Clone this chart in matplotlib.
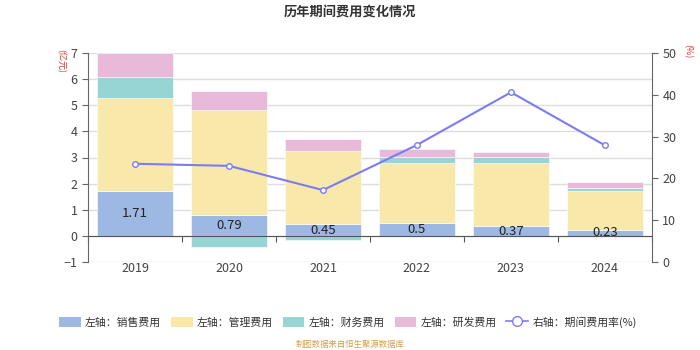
import matplotlib.pyplot as plt
import numpy as np
from matplotlib.patches import Patch
from matplotlib.lines import Line2D

plt.rcParams['font.family'] = ['Noto Sans CJK SC', 'DejaVu Sans']

years = ["2019", "2020", "2021", "2022", "2023", "2024"]
sales = [1.71, 0.79, 0.45, 0.5, 0.37, 0.23]        # 销售费用 (亿元)
admin = [3.58, 4.03, 2.80, 2.30, 2.42, 1.49]       # 管理费用
finance = [0.78, -0.42, -0.15, 0.21, 0.22, 0.13]   # 财务费用
rnd = [0.93, 0.72, 0.46, 0.31, 0.20, 0.20]         # 研发费用
rate = [23.5, 23.0, 17.2, 28.0, 40.6, 27.9]        # 期间费用率(%)

c_sales = "#9db9e3"
c_admin = "#f8e8a9"
c_fin = "#97d4d4"
c_rnd = "#e8b9d9"
c_line = "#7b7cf5"

fig = plt.figure(figsize=(7, 3.5), dpi=100)
ax = fig.add_axes([0.1257, 0.2514, 0.8057, 0.5972])
x = np.arange(len(years))
w = 0.8

# positives and negatives stack separately
pos_base = np.zeros(len(years))
neg_base = np.zeros(len(years))
for vals, col in [(sales, c_sales), (admin, c_admin), (finance, c_fin), (rnd, c_rnd)]:
    v = np.array(vals)
    base = np.where(v >= 0, pos_base, neg_base)
    ax.bar(x, v, w, bottom=base, color=col, edgecolor="white", linewidth=0.4, zorder=2)
    pos_base = pos_base + np.where(v >= 0, v, 0)
    neg_base = neg_base + np.where(v < 0, v, 0)

for i, v in enumerate(sales):
    ax.text(x[i], v / 2, f"{v:g}", ha="center", va="center", fontsize=9.5, color="#222222", zorder=3)

ax.set_xlim(-0.5, len(years) - 0.5)
ax.set_ylim(-1, 7)
ax.set_yticks(range(-1, 8))
ax.yaxis.grid(True, color="#dddddd", linewidth=1, zorder=0)
ax.set_axisbelow(True)
ax.spines['top'].set_visible(False)
ax.spines['right'].set_visible(False)
ax.spines['left'].set_color("#666666")
ax.spines['bottom'].set_position(('data', 0))
ax.spines['bottom'].set_color("#555555")
ax.set_xticks(np.arange(len(years) + 1) - 0.5)
ax.set_xticklabels([])
ax.tick_params(axis='x', length=4, color="#555555", direction="out")
ax.tick_params(axis='y', length=4, color="#666666", labelsize=9, labelcolor="#444444")
for i, yr in enumerate(years):
    ax.text(x[i], -1.25, yr, ha="center", va="center", fontsize=9, color="#444444")

ax2 = ax.twinx()
ax2.plot(x, rate, color=c_line, linewidth=1.5, marker="o", markersize=4,
         markerfacecolor="white", markeredgecolor=c_line, markeredgewidth=1, zorder=5)
ax2.set_ylim(0, 50)
ax2.set_yticks(range(0, 51, 10))
for s in ['top', 'left', 'bottom']:
    ax2.spines[s].set_visible(False)
ax2.spines['right'].set_color("#666666")
ax2.tick_params(axis='y', length=4, color="#666666", labelsize=9, labelcolor="#444444")

fig.text(0.5, 0.965, "历年期间费用变化情况", ha="center", va="center", fontsize=9.5, fontweight="bold", color="#333333")
fig.text(0.087, 0.825, "(亿元)", rotation=-90, ha="center", va="center", fontsize=6.5, color="#e03030")
fig.text(0.982, 0.855, "(%)", rotation=-90, ha="center", va="center", fontsize=6.5, color="#e03030")

handles = [
    Patch(facecolor=c_sales, label="左轴：销售费用"),
    Patch(facecolor=c_admin, label="左轴：管理费用"),
    Patch(facecolor=c_fin, label="左轴：财务费用"),
    Patch(facecolor=c_rnd, label="左轴：研发费用"),
    Line2D([0], [0], color=c_line, marker="o", markerfacecolor="white", markersize=7,
           linewidth=1.2, label="右轴：期间费用率(%)"),
]
fig.legend(handles=handles, loc="center", bbox_to_anchor=(0.497, 0.08), ncol=5, frameon=False,
           fontsize=7.8, handlelength=2.0, handleheight=1.1, columnspacing=0.9, handletextpad=0.4,
           labelcolor="#333333")

fig.text(0.5, 0.015, "制图数据来自恒生聚源数据库", ha="center", va="center", fontsize=6, color="#d4a04a")

fig.savefig("out.png", dpi=100)
